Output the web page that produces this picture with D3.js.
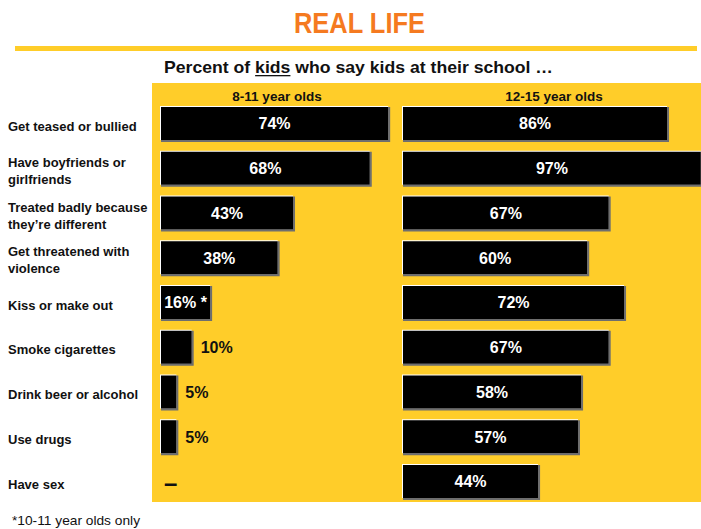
<!DOCTYPE html>
<html>
<head>
<meta charset="utf-8">
<script src="https://cdn.jsdelivr.net/npm/d3@7/dist/d3.min.js"></script>
<style>
  html, body { margin: 0; padding: 0; background: #fff; }
  svg { display: block; font-family: "Liberation Sans", Arial, sans-serif; }
</style>
</head>
<body>
<svg id="chart" width="701" height="529"></svg>
<script>
// ---- data ----
const categories = [
  ["Get teased or bullied"],
  ["Have boyfriends or", "girlfriends"],
  ["Treated badly because", "they\u2019re different"],
  ["Get threatened with", "violence"],
  ["Kiss or make out"],
  ["Smoke cigarettes"],
  ["Drink beer or alcohol"],
  ["Use drugs"],
  ["Have sex"]
];
const groups = ["8-11 year olds", "12-15 year olds"];
const young = [74, 68, 43, 38, 16, 10, 5, 5, null];
const older = [86, 97, 67, 60, 72, 67, 58, 57, 44];
const youngLabels = ["74%", "68%", "43%", "38%", "16% *", "10%", "5%", "5%", "\u2013"];
const olderLabels = ["86%", "97%", "67%", "60%", "72%", "67%", "58%", "57%", "44%"];
const title = "REAL LIFE";
const subtitleParts = ["Percent of ", "kids", " who say kids at their school \u2026"];
const footnote = "*10-11 year olds only";

// ---- chart ----
const svg = d3.select("#chart");
const YELLOW = "#FFCD29";

svg.append("text")
  .attr("x", 359.5).attr("y", 33)
  .attr("text-anchor", "middle")
  .attr("font-size", 29).attr("font-weight", "bold")
  .attr("fill", "#F57A20")
  .attr("textLength", 131).attr("lengthAdjust", "spacingAndGlyphs")
  .text(title);

svg.append("rect").attr("x", 15).attr("y", 46).attr("width", 682).attr("height", 5).attr("fill", YELLOW);

const sub = svg.append("text")
  .attr("x", 358.5).attr("y", 73)
  .attr("text-anchor", "middle")
  .attr("font-size", 16.5).attr("font-weight", "bold")
  .attr("fill", "#111");
subtitleParts.forEach(p => sub.append("tspan").text(p));
sub.attr("textLength", 389).attr("lengthAdjust", "spacingAndGlyphs");
{
  const node = sub.node();
  const s = subtitleParts[0].length, e = s + subtitleParts[1].length - 1;
  const x1 = node.getStartPositionOfChar(s).x;
  const x2 = node.getEndPositionOfChar(e).x;
  svg.append("rect").attr("x", x1).attr("y", 75).attr("width", x2 - x1).attr("height", 1.3).attr("fill", "#111");
}

// panel
svg.append("rect").attr("x", 152).attr("y", 83).attr("width", 549).attr("height", 419).attr("fill", YELLOW);

const x = d3.scaleLinear().domain([0, 100]).range([0, 307]);
const y = d3.scaleBand().domain(d3.range(categories.length)).range([107, 498]).paddingInner(0.2626).paddingOuter(0);
const colX = [161, 403];
const headerX = [277, 554];

groups.forEach((g, i) => {
  svg.append("text").attr("x", headerX[i]).attr("y", 96).attr("dy", "0.35em")
    .attr("text-anchor", "middle").attr("font-size", 13.5).attr("font-weight", "bold")
    .attr("fill", "#111").text(g);
});

// category labels
categories.forEach((lines, i) => {
  const cy = y(i) + y.bandwidth() / 2 + 2.5;
  const t = svg.append("text").attr("font-size", 13).attr("font-weight", "bold").attr("fill", "#111");
  lines.forEach((ln, j) => {
    const off = lines.length === 1 ? 0 : (j === 0 ? -8.5 : 8.5);
    t.append("tspan").attr("x", 8).attr("y", cy + off).attr("dy", "0.35em").text(ln);
  });
});

function drawSeries(vals, labels, x0) {
  vals.forEach((v, i) => {
    const by = y(i), bh = y.bandwidth();
    if (v == null) {
      svg.append("text").attr("x", x0 + 3).attr("y", by + bh / 2 + 1).attr("dy", "0.35em")
        .attr("font-size", 24).attr("font-weight", "bold").attr("fill", "#111").text(labels[i]);
      return;
    }
    const w = x(v);
    const g = svg.append("g");
    g.append("rect").attr("x", x0).attr("y", by).attr("width", w + 2).attr("height", bh + 2).attr("fill", "#6e6e6e");
    g.append("rect").attr("x", x0 - 1).attr("y", by - 1).attr("width", w + 1).attr("height", bh + 1).attr("fill", "#fff");
    g.append("rect").attr("x", x0).attr("y", by).attr("width", w).attr("height", bh).attr("fill", "#000");
    const inside = v >= 16;
    svg.append("text")
      .attr("x", inside ? x0 + w / 2 : x0 + w + 9)
      .attr("y", by + bh / 2).attr("dy", "0.36em")
      .attr("text-anchor", inside ? "middle" : "start")
      .attr("font-size", 16).attr("font-weight", "bold")
      .attr("fill", inside ? "#fff" : "#111")
      .text(labels[i]);
  });
}
drawSeries(young, youngLabels, colX[0]);
drawSeries(older, olderLabels, colX[1]);

svg.append("text").attr("x", 12).attr("y", 520).attr("dy", "0.35em")
  .attr("font-size", 13.5).attr("fill", "#111")
  .attr("textLength", 128).attr("lengthAdjust", "spacingAndGlyphs")
  .text(footnote);
</script>
</body>
</html>
